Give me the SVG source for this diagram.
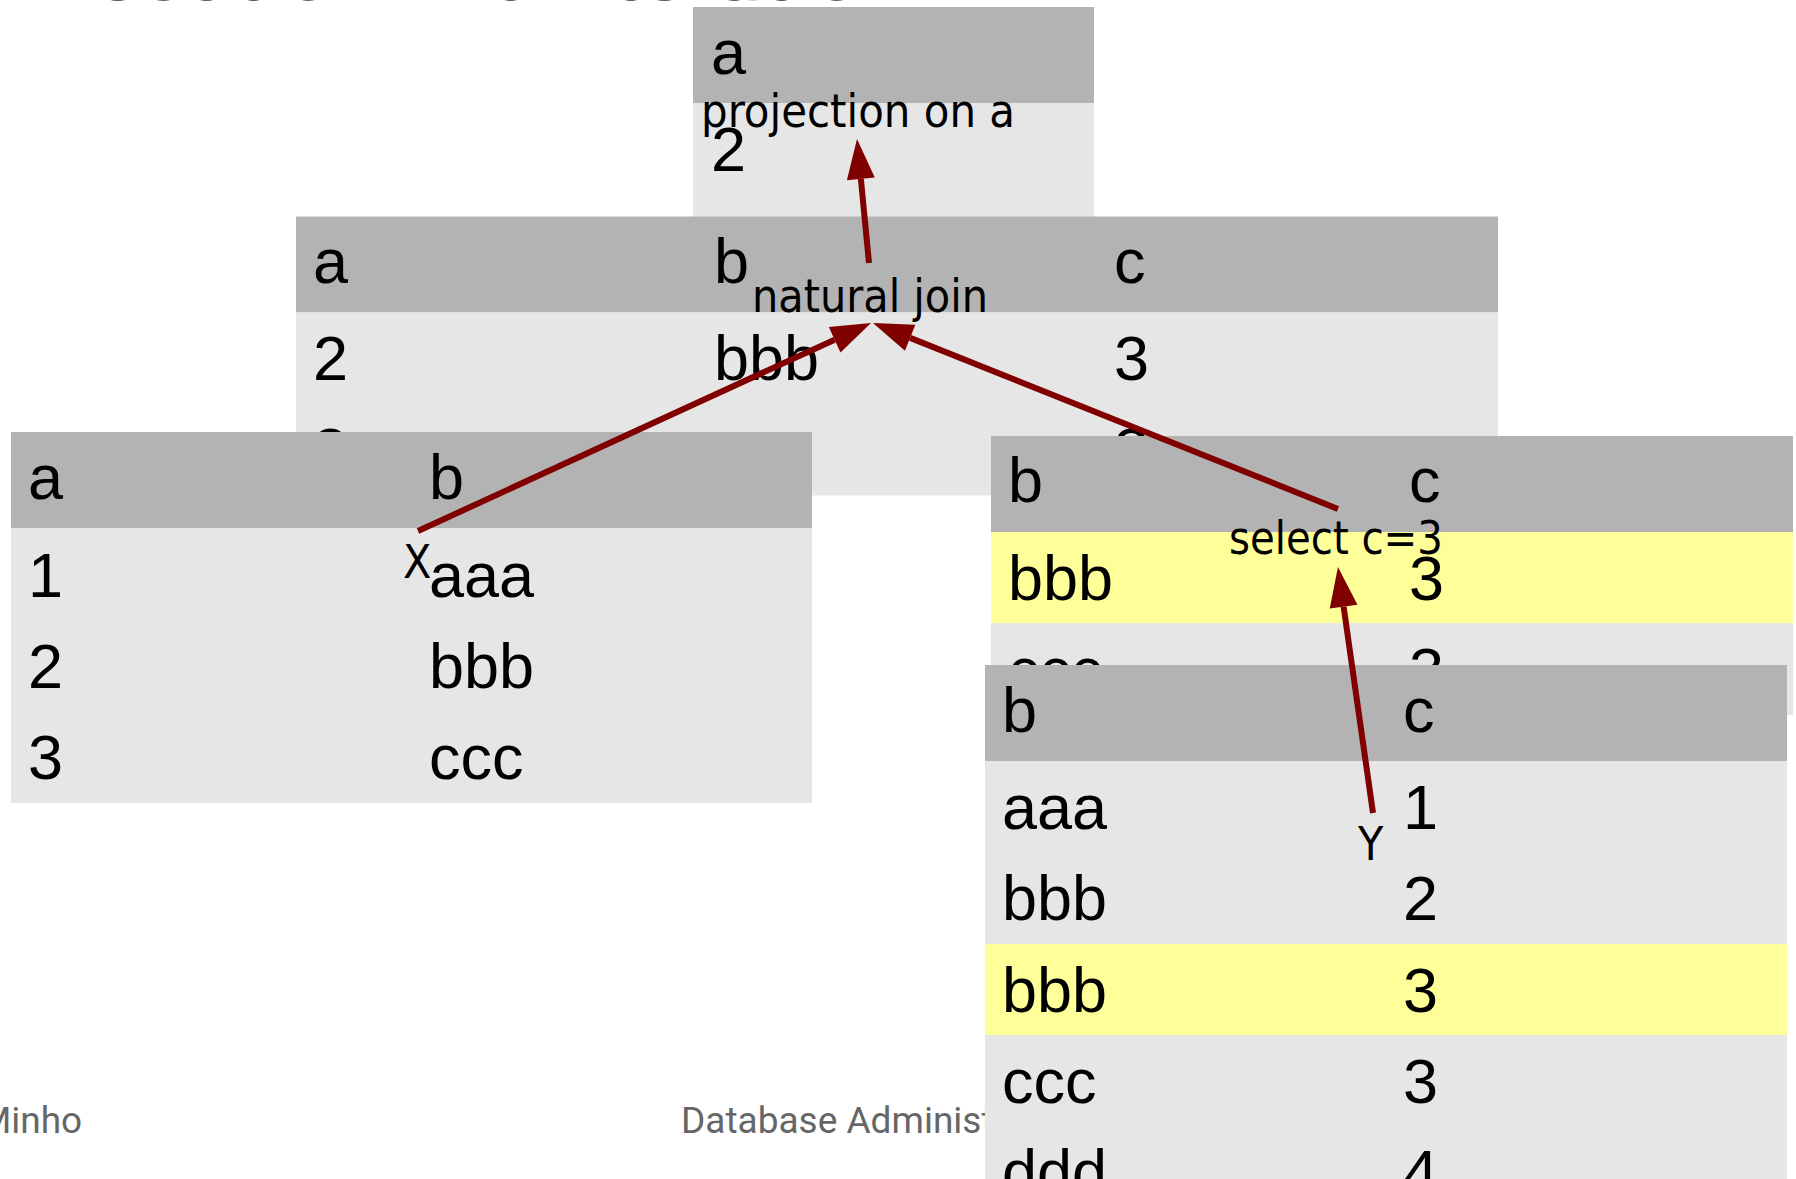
<svg xmlns="http://www.w3.org/2000/svg" width="1796" height="1179" viewBox="0 0 1796 1179">
  <style>
    .hd { fill: #b3b3b3; }
    .bd { fill: #e6e6e6; }
    .hl { fill: #ffff99; }
    .cell { font-family: "Liberation Sans", Arial, sans-serif; font-size: 63px; fill: #000; }
    .lbl { font-family: "DejaVu Sans Condensed", "DejaVu Sans", sans-serif; font-stretch: condensed; font-size: 46px; fill: #000; }
    .foot { font-family: Roboto, "Liberation Sans", sans-serif; font-size: 37px; fill: #666666; }
    .title { font-family: Roboto, "Liberation Sans", sans-serif; font-size: 84px; fill: #595959; }
    .edge { stroke: #800000; stroke-width: 6; fill: none; }
  </style>
  <defs>
    <marker id="ah" markerUnits="userSpaceOnUse" markerWidth="40" markerHeight="28" refX="0" refY="14" orient="auto" overflow="visible">
      <path d="M0,0 L40,14 L0,28 z" fill="#800000"/>
    </marker>
  </defs>
  <rect width="1796" height="1179" fill="#ffffff"/>

  <text class="title" x="0" y="0" textLength="910" lengthAdjust="spacingAndGlyphs">Execution with iteration</text>

  <g id="footer">
    <text class="foot" x="-21" y="1133">Minho</text>
    <text class="foot" x="681" y="1133">Database Administ</text>
  </g>

  <g id="projection">
    <rect class="hd" x="693" y="7" width="401" height="96"/>
    <rect class="bd" x="693" y="103" width="401" height="183"/>
    <text class="cell" x="711" y="74">a</text>
    <text class="cell" x="711" y="171">2</text>
    <text class="cell" x="711" y="263">3</text>
  </g>

  <g id="join">
    <rect class="hd" x="296" y="216.5" width="1202" height="96"/>
    <rect class="bd" x="296" y="312.5" width="1202" height="183"/>
    <text class="cell" x="313" y="283">a</text>
    <text class="cell" x="714" y="283">b</text>
    <text class="cell" x="1114" y="283">c</text>
    <text class="cell" x="313" y="380">2</text>
    <text class="cell" x="714" y="380">bbb</text>
    <text class="cell" x="1114" y="380">3</text>
    <text class="cell" x="313" y="471.5">3</text>
    <text class="cell" x="714" y="471.5">ccc</text>
    <text class="cell" x="1114" y="471.5">3</text>
  </g>

  <g id="X">
    <rect class="hd" x="11" y="432" width="801" height="96"/>
    <rect class="bd" x="11" y="528" width="801" height="275"/>
    <text class="cell" x="28" y="499">a</text>
    <text class="cell" x="429" y="499">b</text>
    <text class="cell" x="28" y="597">1</text>
    <text class="cell" x="429" y="597">aaa</text>
    <text class="cell" x="28" y="688">2</text>
    <text class="cell" x="429" y="688">bbb</text>
    <text class="cell" x="28" y="779">3</text>
    <text class="cell" x="429" y="779">ccc</text>
  </g>

  <g id="select">
    <rect class="hd" x="991" y="436" width="802" height="96"/>
    <rect class="hl" x="991" y="532" width="802" height="91"/>
    <rect class="bd" x="991" y="623" width="802" height="92"/>
    <text class="cell" x="1008" y="502">b</text>
    <text class="cell" x="1409" y="502">c</text>
    <text class="cell" x="1008" y="600">bbb</text>
    <text class="cell" x="1409" y="600">3</text>
    <text class="cell" x="1008" y="691.5">ccc</text>
    <text class="cell" x="1409" y="691.5">3</text>
  </g>

  <g id="Y">
    <rect class="hd" x="985" y="665" width="802" height="96"/>
    <rect class="bd" x="985" y="761" width="802" height="420"/>
    <rect class="hl" x="985" y="944" width="802" height="91"/>
    <text class="cell" x="1002" y="732">b</text>
    <text class="cell" x="1403" y="732">c</text>
    <text class="cell" x="1002" y="829">aaa</text>
    <text class="cell" x="1403" y="829">1</text>
    <text class="cell" x="1002" y="920">bbb</text>
    <text class="cell" x="1403" y="920">2</text>
    <text class="cell" x="1002" y="1011.5">bbb</text>
    <text class="cell" x="1403" y="1011.5">3</text>
    <text class="cell" x="1002" y="1102.5">ccc</text>
    <text class="cell" x="1403" y="1102.5">3</text>
    <text class="cell" x="1002" y="1194">ddd</text>
    <text class="cell" x="1403" y="1194">4</text>
  </g>

  <g id="connectors">
    <line class="edge" x1="869" y1="263" x2="860.85" y2="178.8" marker-end="url(#ah)"/>
    <line class="edge" x1="418" y1="531" x2="834.65" y2="339.69" marker-end="url(#ah)"/>
    <line class="edge" x1="1338" y1="509" x2="910.14" y2="337.86" marker-end="url(#ah)"/>
    <line class="edge" x1="1373" y1="813" x2="1343.6" y2="606.6" marker-end="url(#ah)"/>
  </g>

  <g id="labels">
    <text class="lbl" x="701" y="126.5" textLength="314" lengthAdjust="spacingAndGlyphs">projection on a</text>
    <text class="lbl" x="752" y="311.5" textLength="236" lengthAdjust="spacingAndGlyphs">natural join</text>
    <text class="lbl" x="1229" y="554" textLength="214" lengthAdjust="spacingAndGlyphs">select c=3</text>
    <text class="lbl" x="403" y="578">X</text>
    <text class="lbl" x="1358" y="860">Y</text>
  </g>
</svg>
